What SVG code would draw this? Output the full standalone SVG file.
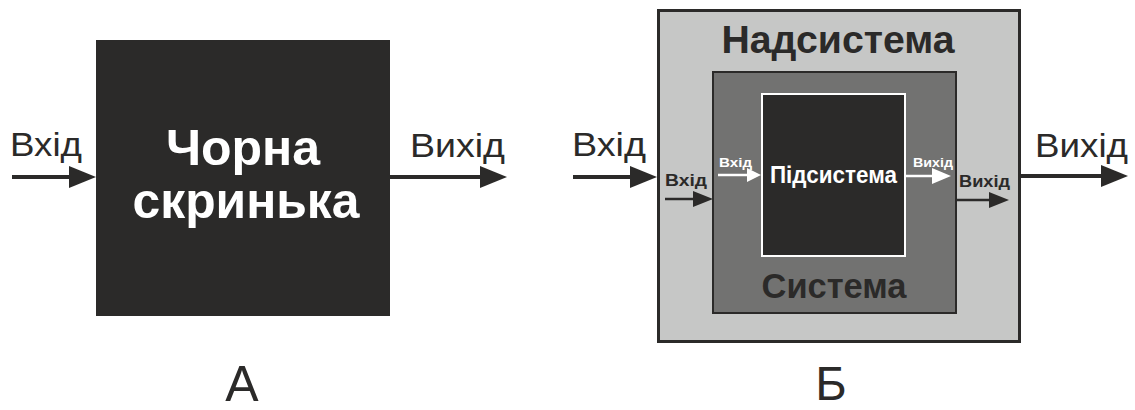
<svg xmlns="http://www.w3.org/2000/svg" width="1135" height="410" viewBox="0 0 1135 410">
<style>
.t{font-family:"Liberation Sans",Arial,sans-serif;fill:#2b2a29}
.b{font-weight:bold}
.w{fill:#ffffff}
.ln{stroke:#2b2a29;fill:none}
.wl{stroke:#ffffff;fill:none}
.hd{fill:#2b2a29}
.wh{fill:#ffffff}
</style>
<rect width="1135" height="410" fill="#ffffff"/>
<g id="black-box">
<rect x="96" y="40" width="294" height="276" fill="#2b2a29"/>
<text class="t b w" x="243" y="165" font-size="50" text-anchor="middle">Чорна</text>
<text class="t b w" x="246" y="218" font-size="50" text-anchor="middle" textLength="227" lengthAdjust="spacingAndGlyphs">скринька</text>
</g>
<g id="nadsystema">
<rect x="658.5" y="10.5" width="361" height="331" fill="#c6c7c6" stroke="#2b2a29" stroke-width="3"/>
<text class="t b" x="838" y="53" font-size="38" text-anchor="middle" textLength="233" lengthAdjust="spacingAndGlyphs">Надсистема</text>
</g>
<g id="systema">
<rect x="713" y="72" width="243" height="241" fill="#727271" stroke="#2b2a29" stroke-width="2"/>
<text class="t b" x="834" y="298" font-size="35" text-anchor="middle" textLength="145" lengthAdjust="spacingAndGlyphs">Система</text>
</g>
<g id="pidsystema">
<rect x="762" y="94" width="143" height="162" fill="#2b2a29" stroke="#ffffff" stroke-width="2"/>
<text class="t b w" x="833.5" y="183" font-size="23" text-anchor="middle" textLength="127" lengthAdjust="spacingAndGlyphs">Підсистема</text>
</g>
<g id="labels">
<text class="t" x="10" y="156" font-size="33" textLength="72" lengthAdjust="spacingAndGlyphs">Вхід</text>
<text class="t" x="410" y="157" font-size="33" textLength="95" lengthAdjust="spacingAndGlyphs">Вихід</text>
<text class="t" x="572" y="156" font-size="33" textLength="74" lengthAdjust="spacingAndGlyphs">Вхід</text>
<text class="t" x="1035" y="157" font-size="33" textLength="93" lengthAdjust="spacingAndGlyphs">Вихід</text>
<text class="t b" x="665" y="186" font-size="16" textLength="42" lengthAdjust="spacingAndGlyphs">Вхід</text>
<text class="t b" x="959" y="187" font-size="16" textLength="51" lengthAdjust="spacingAndGlyphs">Вихід</text>
<text class="t b w" x="719" y="167" font-size="13" textLength="33" lengthAdjust="spacingAndGlyphs">Вхід</text>
<text class="t b w" x="913" y="167" font-size="13" textLength="40" lengthAdjust="spacingAndGlyphs">Вихід</text>
<text class="t" x="242" y="401" font-size="50" text-anchor="middle">А</text>
<text class="t" x="831" y="400" font-size="48" text-anchor="middle">Б</text>
</g>
<g id="connectors">
<line class="ln" x1="12" y1="177" x2="72" y2="177" stroke-width="4"/>
<polygon class="hd" points="96,177 69,166 69,188"/>
<line class="ln" x1="390" y1="177" x2="484" y2="177" stroke-width="4"/>
<polygon class="hd" points="507,177 480,166 480,188"/>
<line class="ln" x1="573" y1="177" x2="634" y2="177" stroke-width="4"/>
<polygon class="hd" points="657,177 630,166 630,188"/>
<line class="ln" x1="1020" y1="176" x2="1104" y2="176" stroke-width="4"/>
<polygon class="hd" points="1128,176 1101,165 1101,187"/>
<line class="ln" x1="665" y1="199" x2="696" y2="199" stroke-width="2.5"/>
<polygon class="hd" points="713,199 693,191 693,207"/>
<line class="ln" x1="956" y1="200" x2="992" y2="200" stroke-width="2.5"/>
<polygon class="hd" points="1009,200 989,192 989,208"/>
<line class="wl" x1="718" y1="175" x2="750" y2="175" stroke-width="2.5"/>
<polygon class="wh" points="761,175 747,168 747,182"/>
<line class="wl" x1="906" y1="176" x2="935" y2="176" stroke-width="2.5"/>
<polygon class="wh" points="951,176 932,168 932,184"/>
</g>
</svg>
